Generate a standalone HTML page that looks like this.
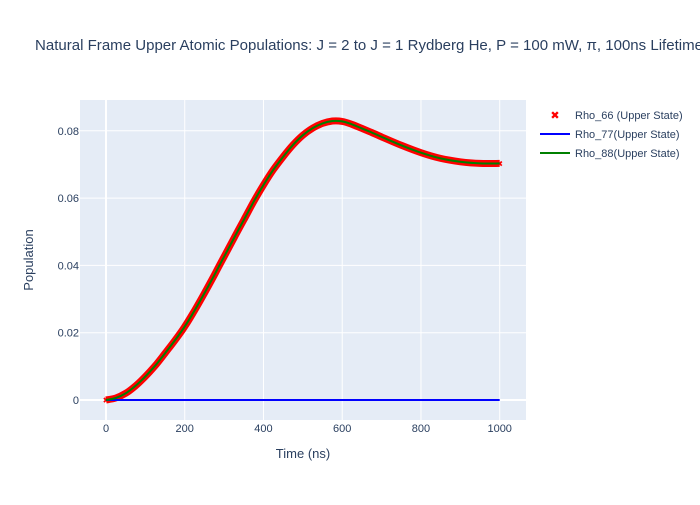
<!DOCTYPE html>
<html><head><meta charset="utf-8"><style>
body{margin:0;background:#fff;font-family:"Liberation Sans",Arial,sans-serif}
svg text{font-family:"Liberation Sans",Arial,sans-serif;fill:#2a3f5f}
</style></head><body>
<svg id="chart" width="700" height="500" xmlns="http://www.w3.org/2000/svg">
<rect width="700" height="500" fill="#fff"/>
<text x="35" y="50" font-size="15" textLength="668" lengthAdjust="spacingAndGlyphs">Natural Frame Upper Atomic Populations: J = 2 to J = 1 Rydberg He, P = 100 mW, π, 100ns Lifetime</text>
<rect x="80" y="100" width="446" height="320" fill="#e5ecf6"/>
<g id="grid"></g>
<g id="series"></g>
<g id="ticks"></g>
<text x="303" y="458" font-size="13" text-anchor="middle">Time (ns)</text>
<text transform="translate(33,260) rotate(-90)" font-size="13" text-anchor="middle">Population</text>
<g>
<g><text x="555" y="119" font-size="11" text-anchor="middle" style="fill:red">✖</text><text x="575" y="119" font-size="11">Rho_66 (Upper State)</text></g>
<g><line x1="540" y1="134" x2="570" y2="134" stroke="blue" stroke-width="2"/><text x="575" y="138" font-size="11">Rho_77(Upper State)</text></g>
<g><line x1="540" y1="153" x2="570" y2="153" stroke="green" stroke-width="2"/><text x="575" y="157" font-size="11">Rho_88(Upper State)</text></g>
</g>
</svg>
<script>
const times=[0,25,50,75,100,125,150,175,200,225,250,275,300,325,350,375,400,425,450,475,500,525,550,575,600,625,650,675,700,750,800,850,900,950,1000];
const rho66=[0,0.0006,0.002,0.0042,0.007,0.0102,0.0139,0.0177,0.0218,0.0266,0.0317,0.0371,0.0426,0.0481,0.0535,0.0589,0.0639,0.0684,0.0723,0.0758,0.0787,0.0808,0.0822,0.0829,0.0828,0.0819,0.0807,0.0795,0.0782,0.0757,0.0735,0.0718,0.0708,0.0703,0.0703];
const rho77=times.map(()=>0);
const rho88=[0,0.0006,0.002,0.0042,0.007,0.0102,0.0139,0.0177,0.0218,0.0266,0.0317,0.0371,0.0426,0.0481,0.0535,0.0589,0.0639,0.0684,0.0723,0.0758,0.0787,0.0808,0.0822,0.0829,0.0828,0.0819,0.0807,0.0795,0.0782,0.0757,0.0735,0.0718,0.0708,0.0703,0.0703];
const xTicks=[0,200,400,600,800,1000];
const yTicks=[0,0.02,0.04,0.06,0.08];
const yTickLabels=["0","0.02","0.04","0.06","0.08"];
const NS="http://www.w3.org/2000/svg";
function X(t){return 106+t*0.3937;}
function Y(v){return 400-v*3365;}
function mk(tag,attrs,parent){const e=document.createElementNS(NS,tag);for(const k in attrs)e.setAttribute(k,attrs[k]);parent.appendChild(e);return e;}
const grid=document.getElementById('grid'),ticks=document.getElementById('ticks'),ser=document.getElementById('series');
xTicks.forEach(t=>{
 const l=mk('line',{x1:X(t),x2:X(t),y1:100,y2:420,stroke:'#fff','stroke-width':t===0?2:1},grid);
 
 
 const tx=mk('text',{x:X(t),y:432,'font-size':11,'text-anchor':'middle'},ticks);tx.textContent=t;
 
 
});
yTicks.forEach((v,i)=>{
 const l=mk('line',{x1:80,x2:526,y1:Y(v),y2:Y(v),stroke:'#fff','stroke-width':v===0?2:1},grid);
 
 
 const tx=mk('text',{x:79,y:Y(v)+4,'font-size':11,'text-anchor':'end'},ticks);tx.textContent=yTickLabels[i];
 
 
});
function path(arr){
 const p=times.map((t,i)=>[X(t),Y(arr[i])]);
 let d='M'+p[0][0].toFixed(1)+' '+p[0][1].toFixed(1);
 for(let i=0;i<p.length-1;i++){
  const p0=p[Math.max(0,i-1)],p1=p[i],p2=p[i+1],p3=p[Math.min(p.length-1,i+2)];
  const c1=[p1[0]+(p2[0]-p0[0])/6,p1[1]+(p2[1]-p0[1])/6],c2=[p2[0]-(p3[0]-p1[0])/6,p2[1]-(p3[1]-p1[1])/6];
  d+=' C'+c1.map(v=>v.toFixed(1)).join(' ')+' '+c2.map(v=>v.toFixed(1)).join(' ')+' '+p2[0].toFixed(1)+' '+p2[1].toFixed(1);
 }
 return d;
}
const band=mk('path',{d:path(rho66),fill:'none',stroke:'red','stroke-width':7,'stroke-linejoin':'round','stroke-linecap':'butt'},ser);


times.forEach((t,i)=>{
 const m=mk('text',{x:X(t),y:Y(rho66[i])+3,'font-size':8,'text-anchor':'middle',style:'fill:red'},ser);m.textContent='✖';
 
 
});
const b=mk('path',{d:path(rho77),fill:'none',stroke:'blue','stroke-width':2},ser);


const g=mk('path',{d:path(rho88),fill:'none',stroke:'green','stroke-width':2,'stroke-linejoin':'round'},ser);


</script>
</body></html>
